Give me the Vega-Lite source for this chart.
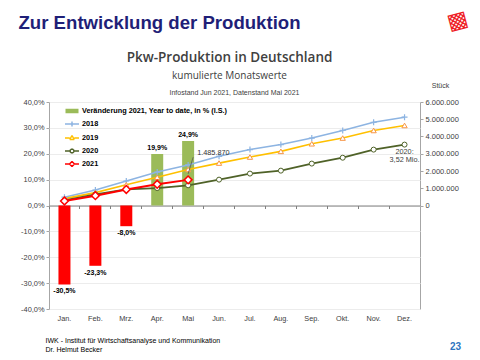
{
  "$schema": "https://vega.github.io/schema/vega-lite/v6.json",
  "width": 371,
  "height": 207,
  "autosize": {"type": "none"},
  "padding": {"left": 49, "top": 102, "right": 60, "bottom": 51},
  "background": "white",
  "config": {
    "locale": {"number": {"decimal": ",", "thousands": ".", "grouping": [3], "currency": ["", " €"], "minus": "-"}},
    "view": {"stroke": "#a6a6a6", "strokeWidth": 1},
    "axis": {"labelFont": "Liberation Sans", "titleFont": "Liberation Sans", "labelColor": "#404040", "titleColor": "#404040", "titleLimit": 1000, "titleFontWeight": "normal"},
    "point": {"opacity": 1},
    "text": {"font": "Liberation Sans"}
  },
  "datasets": {
    "bars": [
      {"month": "Jan.", "pct": -0.305},
      {"month": "Feb.", "pct": -0.233},
      {"month": "Mrz.", "pct": -0.08},
      {"month": "Apr.", "pct": 0.199},
      {"month": "Mai", "pct": 0.249}
    ],
    "prod": [
      {"month": "Jan.", "year": "2018", "value": 480000},
      {"month": "Feb.", "year": "2018", "value": 900000},
      {"month": "Mrz.", "year": "2018", "value": 1420000},
      {"month": "Apr.", "year": "2018", "value": 1940000},
      {"month": "Mai", "year": "2018", "value": 2350000},
      {"month": "Jun.", "year": "2018", "value": 2850000},
      {"month": "Jul.", "year": "2018", "value": 3240000},
      {"month": "Aug.", "year": "2018", "value": 3530000},
      {"month": "Sep.", "year": "2018", "value": 3910000},
      {"month": "Okt.", "year": "2018", "value": 4350000},
      {"month": "Nov.", "year": "2018", "value": 4820000},
      {"month": "Dez.", "year": "2018", "value": 5120000},
      {"month": "Jan.", "year": "2019", "value": 400000},
      {"month": "Feb.", "year": "2019", "value": 750000},
      {"month": "Mrz.", "year": "2019", "value": 1200000},
      {"month": "Apr.", "year": "2019", "value": 1640000},
      {"month": "Mai", "year": "2019", "value": 2090000},
      {"month": "Jun.", "year": "2019", "value": 2460000},
      {"month": "Jul.", "year": "2019", "value": 2810000},
      {"month": "Aug.", "year": "2019", "value": 3140000},
      {"month": "Sep.", "year": "2019", "value": 3580000},
      {"month": "Okt.", "year": "2019", "value": 3910000},
      {"month": "Nov.", "year": "2019", "value": 4350000},
      {"month": "Dez.", "year": "2019", "value": 4640000},
      {"month": "Jan.", "year": "2020", "value": 300000},
      {"month": "Feb.", "year": "2020", "value": 650000},
      {"month": "Mrz.", "year": "2020", "value": 930000},
      {"month": "Apr.", "year": "2020", "value": 1010000},
      {"month": "Mai", "year": "2020", "value": 1170000},
      {"month": "Jun.", "year": "2020", "value": 1500000},
      {"month": "Jul.", "year": "2020", "value": 1850000},
      {"month": "Aug.", "year": "2020", "value": 2020000},
      {"month": "Sep.", "year": "2020", "value": 2430000},
      {"month": "Okt.", "year": "2020", "value": 2770000},
      {"month": "Nov.", "year": "2020", "value": 3240000},
      {"month": "Dez.", "year": "2020", "value": 3530000},
      {"month": "Jan.", "year": "2021", "value": 260000},
      {"month": "Feb.", "year": "2021", "value": 570000},
      {"month": "Mrz.", "year": "2021", "value": 930000},
      {"month": "Apr.", "year": "2021", "value": 1230000},
      {"month": "Mai", "year": "2021", "value": 1485870}
    ]
  },
  "resolve": {"scale": {"y": "independent"}, "axis": {"x": "independent", "y": "independent"}},
  "layer": [
    {
      "data": {"name": "bars"},
      "transform": [{"filter": "false"}],
      "mark": {"type": "point", "filled": false},
      "encoding": {
        "x": {"field": "month", "type": "ordinal", "scale": {"domain": ["Jan.", "Feb.", "Mrz.", "Apr.", "Mai", "Jun.", "Jul.", "Aug.", "Sep.", "Okt.", "Nov.", "Dez."], "paddingInner": 0, "paddingOuter": 0},
          "axis": {"orient": "top", "labels": false, "ticks": false, "domain": false, "grid": false, "title": "kumulierte Monatswerte", "titleFont": "Open Sans", "titleFontSize": 10, "titleX": 180, "titleY": -27, "titleAlign": "center", "titleBaseline": "middle", "titleAngle": 0}},
        "y": {"field": "pct", "type": "quantitative", "scale": {"domain": [-0.4, 0.4]}, "axis": null},
        "stroke": {"field": "series", "type": "nominal",
          "scale": {"domain": ["Veränderung 2021, Year to date, in % (l.S.)", "2018", "2019", "2020", "2021"], "range": ["#9bbb59", "#8db4e2", "#ffc000", "#4f6228", "#ff0000"]},
          "legend": {"title": null, "orient": "none", "legendX": 17, "legendY": 3, "padding": 0, "symbolSize": 100, "symbolStrokeWidth": 1.5, "symbolFillColor": "white", "labelFont": "Liberation Sans", "labelFontSize": 7.3, "labelFontWeight": "bold", "labelColor": "#000000", "labelOffset": 4, "rowPadding": 2, "labelLimit": 400}},
        "shape": {"field": "series", "type": "nominal",
          "scale": {"domain": ["Veränderung 2021, Year to date, in % (l.S.)", "2018", "2019", "2020", "2021"],
            "range": ["M-1.3,-0.3H1.3M-1.3,-0.1H1.3M-1.3,0.1H1.3M-1.3,0.3H1.3",
                      "M-1.4,0H1.4M0,-0.5V0.5",
                      "M-1.4,0H-0.45M0.45,0H1.4M0,-0.5L0.45,0.3M0.45,0.3L-0.45,0.3M-0.45,0.3L0,-0.5",
                      "M-1.4,0H-0.4M0.4,0H1.4M0.4,0L0.283,0.283M0.283,0.283L0,0.4M0,0.4L-0.283,0.283M-0.283,0.283L-0.4,0M-0.4,0L-0.283,-0.283M-0.283,-0.283L0,-0.4M0,-0.4L0.283,-0.283M0.283,-0.283L0.4,0",
                      "M-1.4,0H-0.5M0.5,0H1.4M0,-0.5L0.5,0M0.5,0L0,0.5M0,0.5L-0.5,0M-0.5,0L0,-0.5"]},
          "legend": {"title": null, "orient": "none", "legendX": 17, "legendY": 3, "padding": 0, "symbolSize": 100, "symbolStrokeWidth": 1.5, "symbolFillColor": "white", "labelFont": "Liberation Sans", "labelFontSize": 7.3, "labelFontWeight": "bold", "labelColor": "#000000", "labelOffset": 4, "rowPadding": 2, "labelLimit": 400}}
      }
    },
    {
      "data": {"name": "bars"},
      "mark": {"type": "bar", "width": 12},
      "encoding": {
        "x": {"field": "month", "type": "ordinal", "scale": {"domain": ["Jan.", "Feb.", "Mrz.", "Apr.", "Mai", "Jun.", "Jul.", "Aug.", "Sep.", "Okt.", "Nov.", "Dez."], "paddingInner": 0, "paddingOuter": 0},
          "axis": {"orient": "bottom", "labelAngle": 0, "labelFontSize": 7.3, "labelPadding": 5, "ticks": false, "domain": false, "grid": false,
            "title": ["IWK - Institut für Wirtschaftsanalyse und Kommunikation", "Dr. Helmut Becker"], "titleFontSize": 7, "titleColor": "#000000", "titleLineHeight": 9, "titleX": -4, "titleY": 27.5, "titleAlign": "left", "titleAnchor": "start", "titleBaseline": "top"}},
        "y": {"field": "pct", "type": "quantitative", "scale": {"domain": [-0.4, 0.4]},
          "axis": {"orient": "left", "values": [-0.4, -0.3, -0.2, -0.1, 0, 0.1, 0.2, 0.3, 0.4], "format": ".1%", "labelFontSize": 7.4, "labelPadding": 2, "tickSize": 3, "tickColor": "#a6a6a6", "domain": false, "grid": true, "gridColor": "#ececec", "title": null}},
        "color": {"condition": {"test": "datum.pct < 0", "value": "#ff0000"}, "value": "#9bbb59"}
      }
    },
    {
      "data": {"name": "bars"},
      "transform": [{"filter": "datum.pct > 0"}],
      "mark": {"type": "text", "baseline": "bottom", "dy": -3, "fontSize": 7, "fontWeight": "bold", "color": "#000000"},
      "encoding": {
        "x": {"field": "month", "type": "ordinal", "scale": {"domain": ["Jan.", "Feb.", "Mrz.", "Apr.", "Mai", "Jun.", "Jul.", "Aug.", "Sep.", "Okt.", "Nov.", "Dez."], "paddingInner": 0, "paddingOuter": 0},
          "axis": {"orient": "top", "labels": false, "ticks": false, "domain": false, "grid": false, "title": "Pkw-Produktion in Deutschland", "titleFont": "Open Sans", "titleFontSize": 13.5, "titleFontWeight": 600, "titleX": 180, "titleY": -45, "titleAlign": "center", "titleBaseline": "middle", "titleAngle": 0}},
        "y": {"field": "pct", "type": "quantitative", "scale": {"domain": [-0.4, 0.4]}, "axis": null},
        "text": {"field": "pct", "type": "quantitative", "format": ".1%"}
      }
    },
    {
      "data": {"name": "bars"},
      "transform": [{"filter": "datum.pct < 0"}],
      "mark": {"type": "text", "baseline": "top", "dy": 3, "fontSize": 7, "fontWeight": "bold", "color": "#000000"},
      "encoding": {
        "x": {"field": "month", "type": "ordinal", "scale": {"domain": ["Jan.", "Feb.", "Mrz.", "Apr.", "Mai", "Jun.", "Jul.", "Aug.", "Sep.", "Okt.", "Nov.", "Dez."], "paddingInner": 0, "paddingOuter": 0},
          "axis": {"orient": "top", "labels": false, "ticks": false, "domain": false, "grid": false, "title": "Infostand Jun 2021, Datenstand Mai 2021", "titleFontSize": 7, "titleX": 185, "titleY": -10, "titleAlign": "center", "titleBaseline": "middle", "titleAngle": 0}},
        "y": {"field": "pct", "type": "quantitative", "scale": {"domain": [-0.4, 0.4]}, "axis": null},
        "text": {"field": "pct", "type": "quantitative", "format": ".1%"}
      }
    },
    {
      "data": {"name": "prod"},
      "mark": {"type": "line"},
      "encoding": {
        "x": {"field": "month", "type": "ordinal", "scale": {"domain": ["Jan.", "Feb.", "Mrz.", "Apr.", "Mai", "Jun.", "Jul.", "Aug.", "Sep.", "Okt.", "Nov.", "Dez."], "paddingInner": 0, "paddingOuter": 0},
          "axis": {"orient": "bottom", "offset": -103.5, "labels": false, "ticks": true, "bandPosition": 0, "tickSize": 3, "tickColor": "#808080", "domain": true, "domainColor": "#808080", "grid": false, "title": null}},
        "y": {"field": "value", "type": "quantitative", "scale": {"domain": [-6000000, 6000000]},
          "axis": {"orient": "right", "values": [0, 1000000, 2000000, 3000000, 4000000, 5000000, 6000000], "format": ",.0f", "labelFontSize": 7.5, "labelPadding": 2, "tickSize": 3, "tickColor": "#a6a6a6", "domain": false, "grid": false,
            "title": "Stück", "titleFontSize": 7, "titleAngle": 0, "titleX": 20, "titleY": -17, "titleAlign": "center", "titleBaseline": "middle"}},
        "color": {"field": "year", "type": "nominal", "scale": {"domain": ["2018", "2019", "2020", "2021"], "range": ["#8db4e2", "#ffc000", "#4f6228", "#ff0000"]}, "legend": null},
        "strokeWidth": {"field": "year", "type": "nominal", "scale": {"domain": ["2018", "2019", "2020", "2021"], "range": [1.5, 2, 2.5, 3.5]}, "legend": null}
      }
    },
    {
      "data": {"name": "prod"},
      "transform": [{"filter": "datum.year == '2018'"}],
      "mark": {"type": "point", "shape": "M-1,0H1M0,-1V1", "size": 36, "filled": false, "stroke": "#8db4e2", "strokeWidth": 1.2},
      "encoding": {
        "x": {"field": "month", "type": "ordinal", "scale": {"domain": ["Jan.", "Feb.", "Mrz.", "Apr.", "Mai", "Jun.", "Jul.", "Aug.", "Sep.", "Okt.", "Nov.", "Dez."], "paddingInner": 0, "paddingOuter": 0},
          "axis": {"orient": "top", "labels": false, "ticks": false, "domain": false, "grid": false, "title": "Zur Entwicklung der Produktion", "titleFontSize": 18.6, "titleFontWeight": "bold", "titleColor": "#1f1f78", "titleX": -31, "titleY": -80, "titleAlign": "left", "titleBaseline": "middle", "titleAngle": 0}},
        "y": {"field": "value", "type": "quantitative", "scale": {"domain": [-6000000, 6000000]}, "axis": null}
      }
    },
    {
      "data": {"name": "prod"},
      "transform": [{"filter": "datum.year == '2019'"}],
      "mark": {"type": "point", "shape": "triangle-up", "size": 28, "filled": true, "fill": "white", "stroke": "#f79646", "strokeWidth": 1},
      "encoding": {
        "x": {"field": "month", "type": "ordinal", "scale": {"domain": ["Jan.", "Feb.", "Mrz.", "Apr.", "Mai", "Jun.", "Jul.", "Aug.", "Sep.", "Okt.", "Nov.", "Dez."], "paddingInner": 0, "paddingOuter": 0},
          "axis": {"orient": "top", "labels": false, "ticks": false, "domain": false, "grid": false, "title": "▩", "titleFont": "DejaVu Sans", "titleFontSize": 22, "titleColor": "#ee1c25", "titleX": 408, "titleY": -82, "titleAlign": "center", "titleBaseline": "middle", "titleAngle": -15}},
        "y": {"field": "value", "type": "quantitative", "scale": {"domain": [-6000000, 6000000]}, "axis": null}
      }
    },
    {
      "data": {"name": "prod"},
      "transform": [{"filter": "datum.year == '2020'"}],
      "mark": {"type": "point", "shape": "circle", "size": 25, "filled": true, "fill": "white", "stroke": "#4f6228", "strokeWidth": 1},
      "encoding": {
        "x": {"field": "month", "type": "ordinal", "scale": {"domain": ["Jan.", "Feb.", "Mrz.", "Apr.", "Mai", "Jun.", "Jul.", "Aug.", "Sep.", "Okt.", "Nov.", "Dez."], "paddingInner": 0, "paddingOuter": 0},
          "axis": {"orient": "top", "labels": false, "ticks": false, "domain": false, "grid": false, "title": "23", "titleFontSize": 10, "titleFontWeight": "bold", "titleColor": "#2e75c0", "titleX": 406, "titleY": 244, "titleAlign": "center", "titleBaseline": "middle", "titleAngle": 0}},
        "y": {"field": "value", "type": "quantitative", "scale": {"domain": [-6000000, 6000000]}, "axis": null}
      }
    },
    {
      "data": {"name": "prod"},
      "transform": [{"filter": "datum.year == '2021'"}],
      "mark": {"type": "point", "shape": "diamond", "size": 60, "filled": true, "fill": "white", "stroke": "#ff0000", "strokeWidth": 1.5},
      "encoding": {
        "x": {"field": "month", "type": "ordinal", "scale": {"domain": ["Jan.", "Feb.", "Mrz.", "Apr.", "Mai", "Jun.", "Jul.", "Aug.", "Sep.", "Okt.", "Nov.", "Dez."], "paddingInner": 0, "paddingOuter": 0}, "axis": null},
        "y": {"field": "value", "type": "quantitative", "scale": {"domain": [-6000000, 6000000]}, "axis": null}
      }
    },
    {
      "data": {"name": "prod"},
      "transform": [{"filter": "datum.year == '2021' && datum.month == 'Mai'"}],
      "mark": {"type": "rule", "color": "#595959", "strokeWidth": 0.8, "yOffset": -6, "x2Offset": 5},
      "encoding": {
        "x": {"field": "month", "type": "ordinal", "scale": {"domain": ["Jan.", "Feb.", "Mrz.", "Apr.", "Mai", "Jun.", "Jul.", "Aug.", "Sep.", "Okt.", "Nov.", "Dez."], "paddingInner": 0, "paddingOuter": 0}, "axis": null},
        "x2": {"field": "month"},
        "y": {"field": "value", "type": "quantitative", "scale": {"domain": [-6000000, 6000000]}, "axis": null},
        "y2": {"datum": 2800000}
      }
    },
    {
      "data": {"name": "prod"},
      "transform": [{"filter": "datum.year == '2021' && datum.month == 'Mai'"}],
      "mark": {"type": "text", "align": "left", "baseline": "middle", "dx": 9, "dy": -26.5, "fontSize": 7.3, "color": "#333333"},
      "encoding": {
        "x": {"field": "month", "type": "ordinal", "scale": {"domain": ["Jan.", "Feb.", "Mrz.", "Apr.", "Mai", "Jun.", "Jul.", "Aug.", "Sep.", "Okt.", "Nov.", "Dez."], "paddingInner": 0, "paddingOuter": 0}, "axis": null},
        "y": {"field": "value", "type": "quantitative", "scale": {"domain": [-6000000, 6000000]}, "axis": null},
        "text": {"field": "value", "type": "quantitative", "format": ","}
      }
    },
    {
      "data": {"name": "prod"},
      "transform": [{"filter": "datum.year == '2020' && datum.month == 'Dez.'"}],
      "mark": {"type": "text", "align": "center", "baseline": "top", "dy": 3, "fontSize": 7.3, "lineHeight": 8.5, "color": "#404040", "text": ["2020:", "3,52 Mio."]},
      "encoding": {
        "x": {"field": "month", "type": "ordinal", "scale": {"domain": ["Jan.", "Feb.", "Mrz.", "Apr.", "Mai", "Jun.", "Jul.", "Aug.", "Sep.", "Okt.", "Nov.", "Dez."], "paddingInner": 0, "paddingOuter": 0}, "axis": null},
        "y": {"field": "value", "type": "quantitative", "scale": {"domain": [-6000000, 6000000]}, "axis": null}
      }
    }
  ]
}
